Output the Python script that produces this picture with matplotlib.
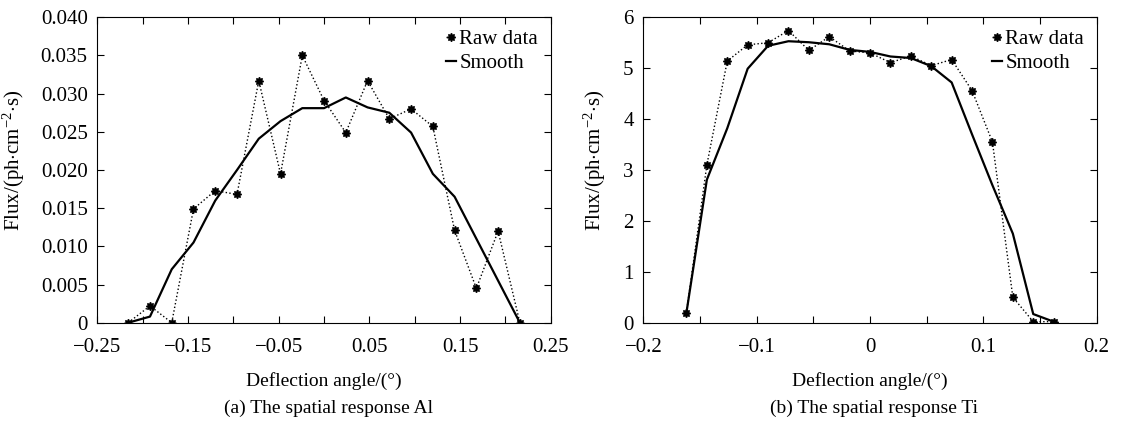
import numpy as np
import matplotlib
matplotlib.use('Agg')
import matplotlib.pyplot as plt
from matplotlib.ticker import MultipleLocator, FixedLocator

plt.rcParams['font.family'] = ['Liberation Serif', 'DejaVu Serif']
plt.rcParams['mathtext.fontset'] = 'custom'
plt.rcParams['mathtext.rm'] = 'Liberation Serif'
plt.rcParams['mathtext.it'] = 'Liberation Serif:italic'

# (a) Al
al_angle = [-0.216, -0.192, -0.168, -0.144, -0.120, -0.096, -0.072, -0.048, -0.024, 0.0,
            0.024, 0.048, 0.072, 0.096, 0.120, 0.144, 0.168, 0.192, 0.216]
al_raw = [0.0, 0.0022, 0.0, 0.0149, 0.0173, 0.0168, 0.0317, 0.0195, 0.0350, 0.0291,
          0.0249, 0.0317, 0.0267, 0.0280, 0.0257, 0.0121, 0.0045, 0.0120, 0.0]
al_smooth = [0.0, 0.0008, 0.0070, 0.0105, 0.0160, 0.0200, 0.0241, 0.0264, 0.0281, 0.0281,
             0.0295, 0.0282, 0.0275, 0.0249, 0.0195, 0.0165, 0.0110, 0.0055, 0.0]

# (b) Ti
ti_angle = [-0.162, -0.144, -0.126, -0.108, -0.090, -0.072, -0.054, -0.036, -0.018, 0.0,
            0.018, 0.036, 0.054, 0.072, 0.090, 0.108, 0.126, 0.144, 0.162]
ti_raw = [0.20, 3.10, 5.14, 5.46, 5.50, 5.74, 5.35, 5.62, 5.34, 5.30,
          5.11, 5.24, 5.05, 5.17, 4.56, 3.55, 0.50, 0.02, 0.02]
ti_smooth = [0.20, 2.81, 3.82, 4.99, 5.44, 5.53, 5.51, 5.47, 5.36, 5.32,
             5.23, 5.20, 5.04, 4.72, 3.70, 2.70, 1.75, 0.17, 0.02]

al_xticks = [-0.25, -0.15, -0.05, 0.05, 0.15, 0.25]
al_xminor = [-0.2, -0.1, 0.0, 0.1, 0.2]
al_xlabels = ['\u22120.25', '\u22120.15', '\u22120.05', '0.05', '0.15', '0.25']
ti_xticks = [-0.2, -0.1, 0, 0.1, 0.2]
ti_xlabels = ['\u22120.2', '\u22120.1', '0', '0.1', '0.2']

W, H = 1124, 423
fig = plt.figure(figsize=(W / 100, H / 100), dpi=100)
ax1 = fig.add_axes([97.4 / W, (H - 322.7) / H, 453.3 / W, 305.4 / H])
ax2 = fig.add_axes([643.4 / W, (H - 322.7) / H, 453.3 / W, 305.4 / H])

star = (8, 1, 0)
fs_tick = 15
fs_lab = 14

def draw(ax, x, raw, smooth):
    ax.plot(x, raw, color='black', linestyle=':', linewidth=1.0,
            marker=star, markersize=6, label='Raw data')
    ax.plot(x, smooth, color='black', linestyle='-', linewidth=1.6, label='Smooth')
    ax.tick_params(which='both', direction='in', top=True, right=True,
                   length=5, width=0.8, labelsize=fs_tick)
    ax.tick_params(axis='y', pad=7)
    ax.tick_params(axis='x', which='both', pad=11)
    for s in ax.spines.values():
        s.set_linewidth(0.8)
    ax.legend(loc='upper right', frameon=False, fontsize=fs_tick, handlelength=0.5,
              handletextpad=0.15, labelspacing=0.2, borderaxespad=0.4, borderpad=0.2)
    ax.set_xlabel('Deflection angle/(°)', fontsize=fs_lab, labelpad=11)
    ax.set_ylabel(r'Flux/(ph$\cdot$cm$^{-2}$$\cdot$s)', fontsize=15)

draw(ax1, al_angle, al_raw, al_smooth)
ax1.set_xlim(-0.25, 0.25)
ax1.set_ylim(0, 0.040)
ax1.xaxis.set_major_locator(FixedLocator(al_xticks))
ax1.xaxis.set_minor_locator(FixedLocator(al_xminor))
ax1.set_xticklabels(al_xlabels)
ax1.set_yticks(np.arange(0, 0.0401, 0.005))
ax1.set_yticklabels(['0'] + ['%.3f' % v for v in np.arange(0.005, 0.0401, 0.005)])
ax1.yaxis.set_label_coords(-0.155, 0.53)

draw(ax2, ti_angle, ti_raw, ti_smooth)
ax2.set_xlim(-0.2, 0.2)
ax2.set_ylim(0, 6)
ax2.set_xticks(ti_xticks)
ax2.set_xticklabels(ti_xlabels)
ax2.xaxis.set_minor_locator(MultipleLocator(0.05))
ax2.set_yticks(range(0, 7))
ax2.yaxis.set_label_coords(-0.078, 0.53)

fig.text(328 / W, 1 - 408 / H, '(a) The spatial response Al', fontsize=fs_lab,
         ha='center', va='center')
fig.text(874 / W, 1 - 408 / H, '(b) The spatial response Ti', fontsize=fs_lab,
         ha='center', va='center')

fig.savefig('out.png', dpi=100)
